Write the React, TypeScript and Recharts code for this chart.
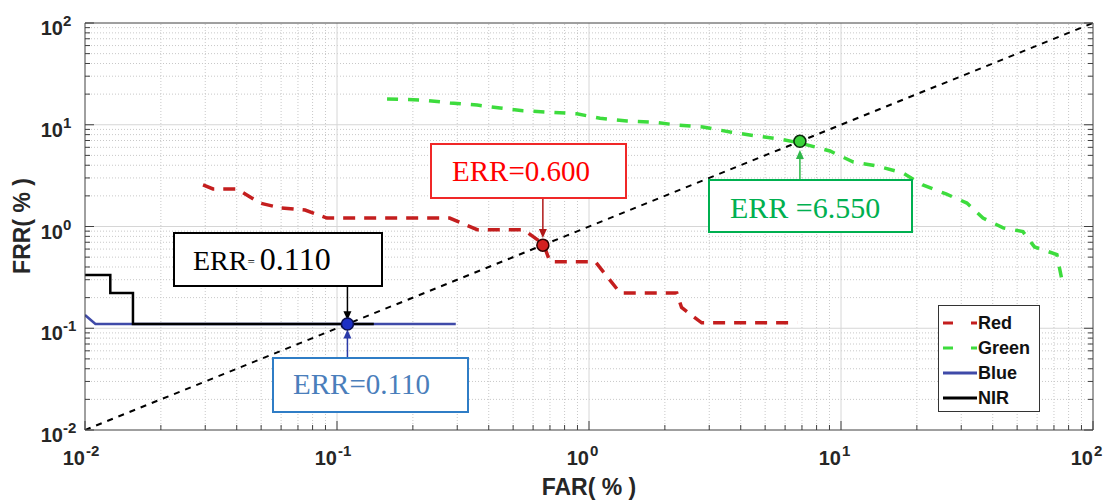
import React from 'react';
import { LineChart, Line, XAxis, YAxis, ReferenceLine, ReferenceDot } from 'recharts';

// ---- data (FAR %, FRR %) ----
const redFar = [0.0294, 0.0322, 0.0401, 0.0494, 0.06, 0.0747, 0.0912, 0.28, 0.36, 0.55, 0.66, 0.7, 1.06, 1.33, 2.23, 2.33, 2.8, 6.7];
const redFrr = [2.56, 2.34, 2.34, 1.7, 1.52, 1.45, 1.21, 1.21, 0.93, 0.93, 0.67, 0.45, 0.45, 0.222, 0.222, 0.16, 0.113, 0.113];

const greenFar = [0.158, 0.219, 0.281, 0.36, 0.444, 0.547, 0.7, 0.895, 1.106, 1.415, 1.795, 2.23, 2.83, 3.63, 4.64, 5.73, 6.87, 9.04, 11.2, 13.9, 17.6, 21.1, 26.1, 31.6, 36.6, 44.0, 52.7, 58.6, 71.9, 73.5, 76.0];
const greenFrr = [17.9, 17.5, 16.4, 15.6, 14.6, 13.7, 13.3, 12.8, 11.6, 10.9, 10.6, 9.95, 9.5, 8.49, 7.75, 7.24, 6.62, 5.52, 4.3, 3.93, 3.36, 2.56, 2.09, 1.7, 1.21, 0.97, 0.89, 0.63, 0.53, 0.4, 0.266];

const blueFar = [0.01, 0.011, 0.296];
const blueFrr = [0.135, 0.11, 0.11];

const nirFar = [0.01, 0.0126, 0.0155, 0.14];
const nirFrr = [0.334, 0.222, 0.11, 0.11];

const eerFar = [0.01, 100];
const eerFrr = [0.01, 100];

// axis ticks
const decades = [0.01, 0.1, 1, 10, 100];
const minorSteps = [2, 3, 4, 5, 6, 7, 8, 9];

const toPoints = (xs: number[], ys: number[]) => xs.map((x, i) => ({ x, y: ys[i] }));

const redData = toPoints(redFar, redFrr);
const greenData = toPoints(greenFar, greenFrr);
const blueData = toPoints(blueFar, blueFrr);
const nirData = toPoints(nirFar, nirFrr);
const eerData = toPoints(eerFar, eerFrr);

const minorTicks = decades.slice(0, 4).flatMap((d) => minorSteps.map((m) => +(d * m).toPrecision(3)));
const allTicks = [...decades, ...minorTicks].sort((a, b) => a - b);

const isMajor = (v: number) => decades.some((d) => Math.abs(d - v) / d < 1e-6);
const expOf = (v: number) => Math.round(Math.log10(v));

const AXIS = '#404040';
const LABEL = '#262626';
const FONT = '"Liberation Sans", Arial, sans-serif';
const SERIF = '"Liberation Serif", "Times New Roman", serif';

const BottomTick = (props: any) => {
  const { x, y, payload } = props;
  const major = isMajor(payload.value);
  return (
    <g>
      <line x1={x} x2={x} y1={y} y2={y - (major ? 9 : 5)} stroke={AXIS} strokeWidth={1} />
      {major && (
        <text fontFamily={FONT} fontWeight="bold" fill={LABEL}>
          <tspan x={x} y={y + 35} fontSize={20} textAnchor="end">10</tspan>
          <tspan x={x + 1} y={y + 26} fontSize={15} textAnchor="start">{expOf(payload.value)}</tspan>
        </text>
      )}
    </g>
  );
};

const TopTick = (props: any) => {
  const { x, y, payload } = props;
  const major = isMajor(payload.value);
  return <line x1={x} x2={x} y1={y} y2={y + (major ? 9 : 5)} stroke={AXIS} strokeWidth={1} />;
};

const LeftTick = (props: any) => {
  const { x, y, payload } = props;
  const major = isMajor(payload.value);
  return (
    <g>
      <line x1={x} x2={x + (major ? 9 : 5)} y1={y} y2={y} stroke={AXIS} strokeWidth={1} />
      {major && (
        <text fontFamily={FONT} fontWeight="bold" fill={LABEL}>
          <tspan x={x - 22} y={y + 12} fontSize={20} textAnchor="end">10</tspan>
          <tspan x={x - 22} y={y + 3} fontSize={15} textAnchor="start">{expOf(payload.value)}</tspan>
        </text>
      )}
    </g>
  );
};

const RightTick = (props: any) => {
  const { x, y, payload } = props;
  const major = isMajor(payload.value);
  return <line x1={x} x2={x - (major ? 9 : 5)} y1={y} y2={y} stroke={AXIS} strokeWidth={1} />;
};

// arrow drawn from (x1,y1) toward tip (x2,y2)
const arrow = (color: string) => (p: any) => {
  const { x1, y1, x2, y2 } = p;
  const dir = y2 > y1 ? 1 : -1;
  return (
    <g>
      <line x1={x1} y1={y1} x2={x2} y2={y2 - dir * 6} stroke={color} strokeWidth={1.5} />
      <polygon points={`${x2},${y2} ${x2 - 4},${y2 - dir * 9} ${x2 + 4},${y2 - dir * 9}`} fill={color} />
    </g>
  );
};

const boxBase: React.CSSProperties = {
  position: 'absolute',
  boxSizing: 'border-box',
  background: '#fff',
  fontFamily: SERIF,
  whiteSpace: 'nowrap',
};

const legendRows = [
  { name: 'Red', color: '#c41e1e', dash: true, y: 323 },
  { name: 'Green', color: '#3ddc3d', dash: true, y: 348 },
  { name: 'Blue', color: '#3f4aa8', dash: false, y: 373 },
  { name: 'NIR', color: '#000000', dash: false, y: 398 },
];

export default function App() {
  return (
    <div style={{ position: 'absolute', left: 0, top: 0, width: 1120, height: 503, background: '#fff' }}>
      <LineChart width={1120} height={503} margin={{ top: 22, right: 26, bottom: 13, left: 25 }}>
        <XAxis
          type="number" dataKey="x" scale="log" domain={[0.01, 100]} allowDataOverflow
          ticks={allTicks} interval={0} tickSize={0} tickMargin={0} tickLine={false}
          tick={<BottomTick />} height={60} axisLine={{ stroke: AXIS }}
        />
        <XAxis
          xAxisId="top" orientation="top" type="number" scale="log" domain={[0.01, 100]} allowDataOverflow
          ticks={allTicks} interval={0} tickSize={0} tickMargin={0} tickLine={false}
          tick={<TopTick />} height={1} axisLine={{ stroke: AXIS }}
        />
        <YAxis
          type="number" scale="log" domain={[0.01, 100]} allowDataOverflow
          ticks={allTicks} interval={0} tickSize={0} tickMargin={0} tickLine={false}
          tick={<LeftTick />} width={60} axisLine={{ stroke: AXIS }}
        />
        <YAxis
          yAxisId="right" orientation="right" type="number" scale="log" domain={[0.01, 100]} allowDataOverflow
          ticks={allTicks} interval={0} tickSize={0} tickMargin={0} tickLine={false}
          tick={<RightTick />} width={1} axisLine={{ stroke: AXIS }}
        />

        {minorTicks.map((v) => (
          <ReferenceLine key={'mx' + v} x={v} stroke="#c8c8c8" strokeDasharray="1 2" strokeWidth={1} />
        ))}
        {minorTicks.map((v) => (
          <ReferenceLine key={'my' + v} y={v} stroke="#c8c8c8" strokeDasharray="1 2" strokeWidth={1} />
        ))}
        {decades.slice(1, 4).map((v) => (
          <ReferenceLine key={'Mx' + v} x={v} stroke="#d6d6d6" strokeWidth={1} />
        ))}
        {decades.slice(1, 4).map((v) => (
          <ReferenceLine key={'My' + v} y={v} stroke="#d6d6d6" strokeWidth={1} />
        ))}

        <Line data={eerData} dataKey="y" type="linear" stroke="#000" strokeWidth={2} strokeDasharray="6 6" dot={false} isAnimationActive={false} />
        <Line data={redData} dataKey="y" type="linear" stroke="#c41e1e" strokeWidth={3.5} strokeDasharray="12 9" dot={false} isAnimationActive={false} />
        <Line data={greenData} dataKey="y" type="linear" stroke="#3ddc3d" strokeWidth={3.5} strokeDasharray="11 10" dot={false} isAnimationActive={false} />
        <Line data={blueData} dataKey="y" type="linear" stroke="#3f4aa8" strokeWidth={2.5} dot={false} isAnimationActive={false} />
        <Line data={nirData} dataKey="y" type="stepAfter" stroke="#000" strokeWidth={2.5} dot={false} isAnimationActive={false} />

        <ReferenceLine segment={[{ x: 0.11, y: 0.26 }, { x: 0.11, y: 0.12 }]} shape={arrow('#000')} />
        <ReferenceLine segment={[{ x: 0.11, y: 0.052 }, { x: 0.11, y: 0.097 }]} shape={arrow('#2a3aa8')} />
        <ReferenceLine segment={[{ x: 0.656, y: 1.86 }, { x: 0.656, y: 0.77 }]} shape={arrow('#b01818')} />
        <ReferenceLine segment={[{ x: 6.87, y: 2.93 }, { x: 6.87, y: 5.65 }]} shape={arrow('#2fb84a')} />

        <ReferenceDot x={0.11} y={0.11} r={6} fill="#1c2fc4" stroke="#0a0f50" strokeWidth={1.5} />
        <ReferenceDot x={0.656} y={0.656} r={6} fill="#d42020" stroke="#300000" strokeWidth={1.5} />
        <ReferenceDot x={6.87} y={6.87} r={6} fill="#3ad23a" stroke="#0c2a0c" strokeWidth={1.5} />
      </LineChart>

      {/* axis titles */}
      <div style={{ position: 'absolute', left: 489, width: 200, top: 474, textAlign: 'center', fontFamily: FONT, fontWeight: 'bold', fontSize: 23, color: LABEL }}>
        FAR( % )
      </div>
      <div style={{ position: 'absolute', left: 22, top: 226, width: 0, height: 0 }}>
        <div style={{ position: 'absolute', left: -100, top: -14, width: 200, textAlign: 'center', transform: 'rotate(-90deg)', fontFamily: FONT, fontWeight: 'bold', fontSize: 23, color: LABEL, lineHeight: '28px' }}>
          FRR( % )
        </div>
      </div>

      {/* annotation boxes */}
      <div style={{ ...boxBase, left: 173, top: 232, width: 210, height: 55, border: '2px solid #000', color: '#000', paddingLeft: 18, lineHeight: '51px' }}>
        <span style={{ fontSize: 28 }}>ERR</span>
        <span style={{ fontSize: 13, verticalAlign: '4px' }}>=</span>
        <span style={{ fontSize: 32, marginLeft: 5 }}>0.110</span>
      </div>
      <div style={{ ...boxBase, left: 272, top: 357, width: 197, height: 56, border: '2px solid #2f7dc6', color: '#4a7ebb', paddingLeft: 19, fontSize: 29, lineHeight: '50px' }}>
        ERR=0.110
      </div>
      <div style={{ ...boxBase, left: 430, top: 143, width: 197, height: 56, border: '2px solid #f02828', color: '#ff0000', paddingLeft: 20, fontSize: 29, lineHeight: '52px' }}>
        ERR=0.600
      </div>
      <div style={{ ...boxBase, left: 708, top: 179, width: 205, height: 54, border: '2px solid #00b050', color: '#00b050', paddingLeft: 20, fontSize: 30, lineHeight: '54px' }}>
        ERR =6.550
      </div>

      {/* legend */}
      <div style={{ position: 'absolute', left: 938, top: 305, width: 102, height: 107, boxSizing: 'border-box', border: '1px solid #333', background: '#fff' }} />
      {legendRows.map((r) => (
        <div key={r.name} style={{ position: 'absolute', left: 943, top: r.y - 12, height: 24, display: 'flex', alignItems: 'center' }}>
          <svg width={35} height={24}>
            <line x1={0} x2={34} y1={12} y2={12} stroke={r.color} strokeWidth={3} strokeDasharray={r.dash ? '10 18' : undefined} />
          </svg>
          <span style={{ fontFamily: FONT, fontWeight: 'bold', fontSize: 18, color: '#111', lineHeight: '24px' }}>{r.name}</span>
        </div>
      ))}
    </div>
  );
}
